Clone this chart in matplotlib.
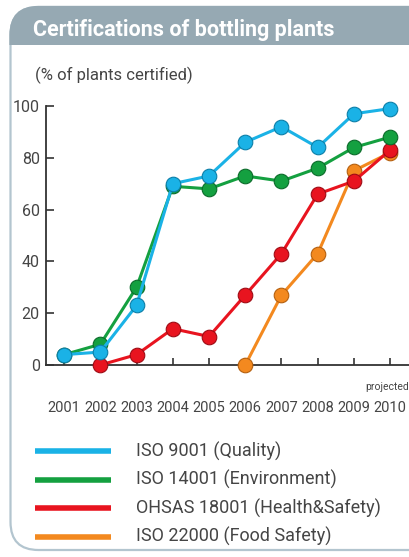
import numpy as np
import matplotlib.pyplot as plt
from matplotlib.patches import FancyBboxPatch, Rectangle

plt.rcParams['font.family'] = ['Roboto', 'DejaVu Sans']

# data
years = [2001, 2002, 2003, 2004, 2005, 2006, 2007, 2008, 2009, 2010]
iso9001 = [4, 5, 23, 70, 73, 86, 92, 84, 97, 99]
iso14001 = [4, 8, 30, 69, 68, 73, 71, 76, 84, 88]
ohsas_years = [2002, 2003, 2004, 2005, 2006, 2007, 2008, 2009, 2010]
ohsas18001 = [0, 4, 14, 11, 27, 43, 66, 71, 83]
iso22_years = [2006, 2007, 2008, 2009, 2010]
iso22000 = [0, 27, 43, 75, 82]

names = ['ISO 9001 (Quality)', 'ISO 14001 (Environment)',
         'OHSAS 18001 (Health&Safety)', 'ISO 22000 (Food Safety)']
colors = ['#1ab2e6', '#14a040', '#e8141f', '#f3891f']
edges = ['#0c7fa8', '#0b6b2a', '#9e0b14', '#b5600f']
text_color = '#454545'

W, H = 409, 557
fig = plt.figure(figsize=(W / 100, H / 100), dpi=100)

# background card in pixel coordinates
bg = fig.add_axes([0, 0, 1, 1])
bg.set_xlim(0, W)
bg.set_ylim(H, 0)
bg.axis('off')
card = FancyBboxPatch((10.5, 7), 450, 543, boxstyle='round,pad=0,rounding_size=28',
                      fc='white', ec='#b3c5cf', lw=1.6)
bg.add_patch(card)
header = FancyBboxPatch((10.5, 7), 450, 100, boxstyle='round,pad=0,rounding_size=28',
                        fc='#96a9b3', ec='#96a9b3', lw=1.6)
bg.add_patch(header)
header.set_clip_path(Rectangle((0, 0), W, 45, transform=bg.transData))
bg.text(33, 30, 'Certifications of bottling plants', color='white',
        fontsize=15.5, fontweight='bold', va='center', ha='left')
bg.text(35, 75, '(% of plants certified)', color=text_color, fontsize=12,
        va='center', ha='left')

# legend
for i, (name, c) in enumerate(zip(names, colors)):
    y = 451 + i * 28.5
    bg.plot([35, 111], [y, y], color=c, lw=4, solid_capstyle='butt')
    bg.text(136, y, name, color=text_color, fontsize=13, va='center', ha='left')

# chart
left, right, top, bottom = 46, 409, 106, 365
ax = fig.add_axes([left / W, 1 - bottom / H, (right - left) / W, (bottom - top) / H])
ax.set_facecolor('none')

series = [
    (iso22_years, iso22000, 3),
    (ohsas_years, ohsas18001, 2),
    (years, iso14001, 1),
    (years, iso9001, 0),
]
for k, (xs, ys, i) in enumerate(series):
    ax.plot(xs, ys, color=colors[i], lw=2.2, marker='o', markersize=10.5,
            markerfacecolor=colors[i], markeredgecolor=edges[i],
            markeredgewidth=0.8, clip_on=False, zorder=3 + k)

ax.set_xlim(2000.5, 2010.52)
ax.set_ylim(0, 100)
ax.set_yticks([0, 20, 40, 60, 80, 100])
ax.set_xticks(years)
ax.spines['top'].set_visible(False)
ax.spines['right'].set_visible(False)
for s in ['left', 'bottom']:
    ax.spines[s].set_color('#333333')
    ax.spines[s].set_linewidth(1.3)
ax.tick_params(axis='y', direction='in', length=6, width=1.2, color='#333333',
               labelsize=11.5, labelcolor=text_color, pad=4.5)
ax.tick_params(axis='x', direction='in', length=5, width=1.2, color='#333333',
               labelsize=10.5, labelcolor=text_color, pad=26)
ax.text(1.0, -8.5, 'projected', fontsize=7.5, color=text_color,
        ha='right', va='center', transform=ax.get_yaxis_transform())

fig.savefig('out.png', dpi=100)
